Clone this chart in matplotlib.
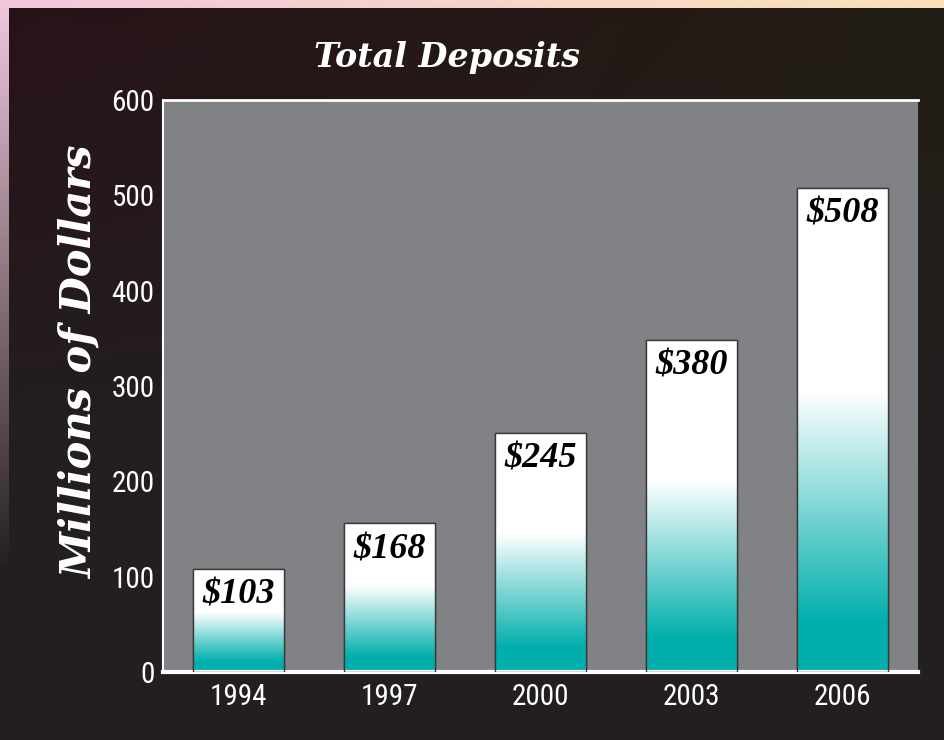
import numpy as np
import matplotlib
matplotlib.use("Agg")
import matplotlib.pyplot as plt
from matplotlib.colors import LinearSegmentedColormap
from matplotlib.patches import Rectangle
from matplotlib import font_manager

# ----------------------------------------------------------------
# data
years = ["1994", "1997", "2000", "2003", "2006"]
bar_heights = [108, 156, 251, 348, 508]      # as drawn
bar_labels = ["$103", "$168", "$245", "$380", "$508"]
y_ticks = [0, 100, 200, 300, 400, 500, 600]

# ----------------------------------------------------------------
dark = "#231f20"
plot_gray = "#808285"
teal = "#00afac"

names = {f.name for f in font_manager.fontManager.ttflist}
narrow = [n for n in ["Liberation Sans Narrow", "DejaVu Sans Condensed",
                      "Roboto Condensed"] if n in names]
tick_family = narrow + ["Liberation Sans", "DejaVu Sans"]

fig = plt.figure(figsize=(9.44, 7.4), dpi=100)

# background: soft pink / peach frame fading into the dark panel
bg = fig.add_axes([0, 0, 1, 1])
h, w = 740, 944
xx = np.linspace(0, 1, w)[None, :, None]
yy = np.linspace(0, 1, h)[:, None, None]
pink = np.array([242, 200, 222]) / 255
peach = np.array([253, 226, 185]) / 255
frame = pink * (1 - xx) + peach * xx
fade = np.clip(1 - yy * 1.3, 0, 1)
dk = np.array([35, 31, 32]) / 255
img = frame * fade + dk * (1 - fade)
bg.imshow(img, extent=[0, w, h, 0], aspect="auto")
bg.set_xlim(0, w)
bg.set_ylim(h, 0)
# dark panel with a faint warm tint at the top
maroon = np.array([40, 18, 24]) / 255
olive = np.array([34, 30, 20]) / 255
top_tint = maroon * (1 - xx) + olive * xx
t = np.clip(1 - yy * 1.6, 0, 1)
panel = top_tint * t + dk * (1 - t)
bg.imshow(panel[8:, 9:], extent=[9, w, h, 8], aspect="auto")
bg.axis("off")

# ----------------------------------------------------------------
ax = fig.add_axes([163 / 944, 1 - 672 / 740, 755 / 944, 572 / 740])
ax.set_facecolor(plot_gray)
ax.set_xlim(-0.5, 4.5)
ax.set_ylim(0, 600)

x = np.arange(len(years))
bars = ax.bar(x, bar_heights, width=0.6, color="white",
              edgecolor="#3a3a3a", linewidth=1.0, zorder=2)

cmap = LinearSegmentedColormap.from_list(
    "tealfade", [(0, teal), (0.1, teal), (0.58, "white"), (1, "white")])
grad = np.linspace(0, 1, 256)[:, None]
for b in bars:
    x0, y0 = b.get_x(), b.get_y()
    bw, bh = b.get_width(), b.get_height()
    im = ax.imshow(grad, cmap=cmap, origin="lower", aspect="auto",
                   extent=[x0, x0 + bw, y0, y0 + bh], zorder=2.5)
    im.set_clip_path(b)
    ax.add_patch(Rectangle((x0, y0), bw, bh, fill=False,
                           edgecolor="#3a3a3a", linewidth=1.0, zorder=3))

for xi, hv, lab in zip(x, bar_heights, bar_labels):
    ax.annotate(lab, (xi, hv), xytext=(0, -7), textcoords="offset points",
                ha="center", va="top", fontsize=26, fontweight="bold",
                fontstyle="italic", family="Liberation Serif",
                color="black", zorder=4)

ax.set_xlim(-0.5, 4.5)
ax.set_ylim(0, 600)
ax.set_xticks(x)
ax.set_xticklabels(years)
ax.set_yticks(y_ticks)
ax.tick_params(length=0, colors="white", labelsize=21)
ax.tick_params(axis="y", pad=6)
ax.tick_params(axis="x", pad=8)
for lab in ax.get_xticklabels() + ax.get_yticklabels():
    lab.set_family(tick_family)
    lab.set_stretch("condensed")

for s in ["top", "left", "bottom"]:
    ax.spines[s].set_color("white")
ax.spines["top"].set_linewidth(2)
ax.spines["left"].set_linewidth(1.5)
ax.spines["bottom"].set_linewidth(3)
ax.spines["right"].set_visible(False)

fig.text(447 / 944, 1 - 57 / 740, "Total Deposits", ha="center", va="center",
         fontsize=24, fontweight="bold", fontstyle="italic",
         family="DejaVu Serif", color="white")
fig.text(80 / 944, 1 - 362 / 740, "Millions of Dollars", ha="center",
         va="center", rotation=90, fontsize=30, fontweight="bold",
         fontstyle="italic", family="DejaVu Serif", color="white")

fig.savefig("out.png", dpi=100, facecolor=dark)
